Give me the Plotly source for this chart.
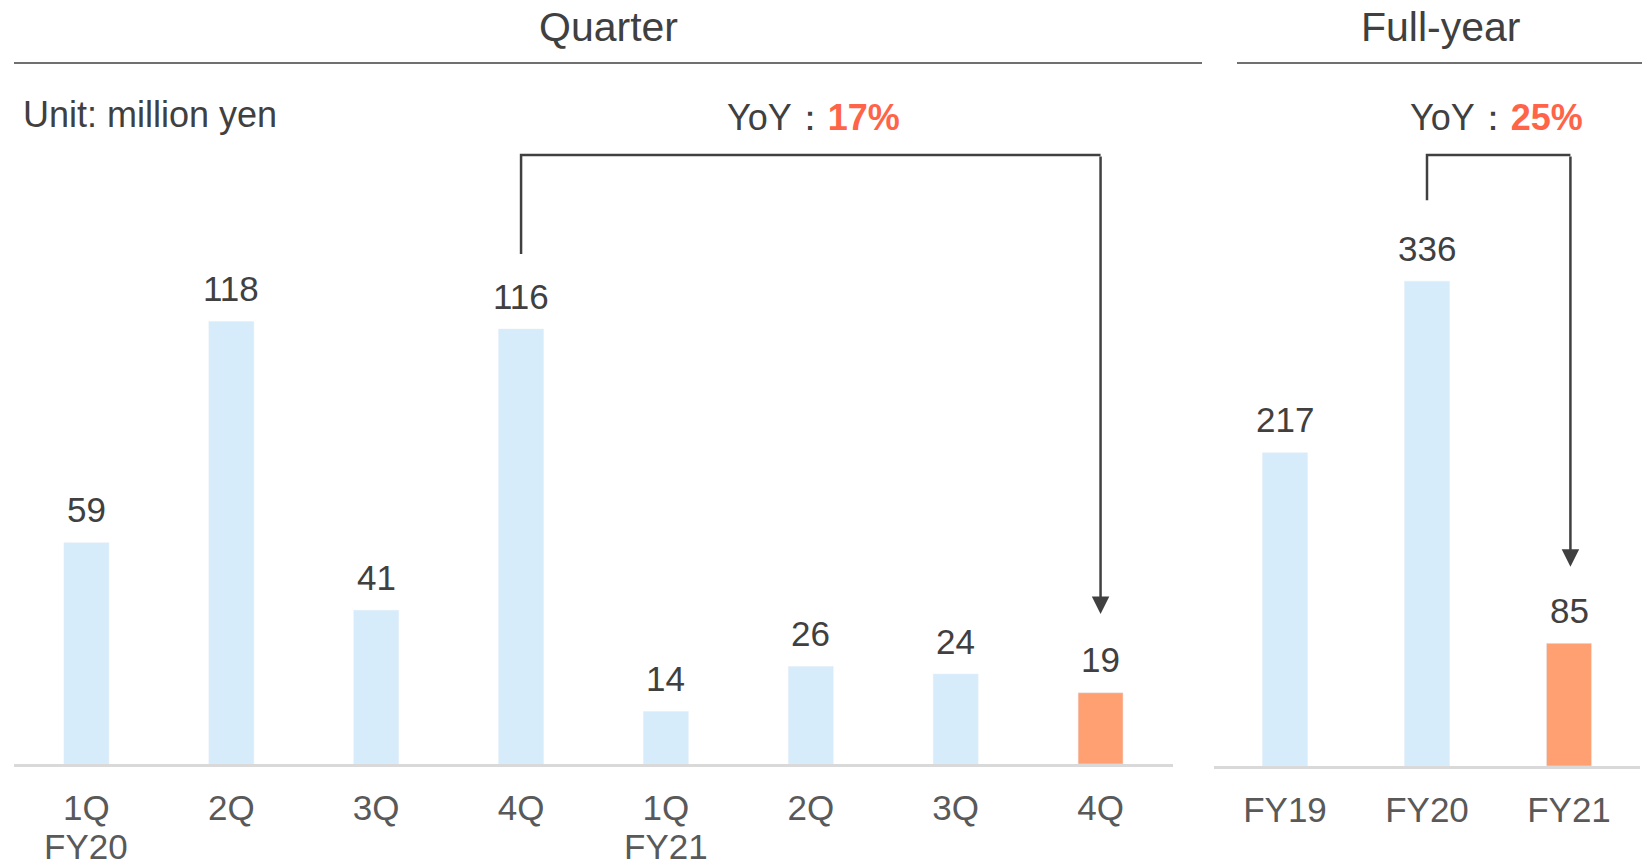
import plotly.graph_objects as go

# ---------------- data ----------------
q_ticks = ["1Q", "2Q", "3Q", "4Q", "1Q", "2Q", "3Q", "4Q"]
q_years = ["FY20", "", "", "", "FY21", "", "", ""]
q_vals = [59, 118, 41, 116, 14, 26, 24, 19]
q_colors = ["#D6ECFB"] * 7 + ["#FFA073"]

fy_ticks = ["FY19", "FY20", "FY21"]
fy_vals = [217, 336, 85]
fy_colors = ["#D6ECFB", "#D6ECFB", "#FFA073"]

yoy_quarter = "17%"
yoy_full = "25%"

# ---------------- geometry helpers ----------------
W, H = 1650, 867
def px(x):
    return x / W
def py(y):
    return 1 - y / H

DARK = "#404040"
TICK = "#595959"
RED = "#FF6448"
FONT = "Arial, Liberation Sans, sans-serif"

q_scale = 3.75      # px per unit
fy_scale = 1.443
q_top_px, q_base_px = 120, 764
fy_top_px, fy_base_px = 120, 766

fig = go.Figure()
fig.add_trace(go.Bar(x=list(range(len(q_vals))), y=q_vals, marker_color=q_colors,
                     width=0.31, xaxis="x", yaxis="y", hoverinfo="skip"))
fig.add_trace(go.Bar(x=list(range(len(fy_vals))), y=fy_vals, marker_color=fy_colors,
                     width=0.317, xaxis="x2", yaxis="y2", hoverinfo="skip"))

axis_common = dict(showline=True, linecolor="#D9D9D9", linewidth=2.5, ticks="",
                   showgrid=False, zeroline=False, fixedrange=True,
                   tickfont=dict(family=FONT, size=35, color=TICK),
                   ticklabelstandoff=11)

fig.update_layout(
    width=W, height=H, margin=dict(l=0, r=0, t=0, b=0),
    paper_bgcolor="white", plot_bgcolor="white", showlegend=False,
    font=dict(family=FONT, color=DARK),
    xaxis=dict(domain=[px(14), px(1173)], range=[-0.5, len(q_vals) - 0.5],
               tickvals=list(range(len(q_vals))), ticktext=q_ticks, anchor="y", **axis_common),
    yaxis=dict(domain=[py(q_base_px), py(q_top_px)],
               range=[0, (q_base_px - q_top_px) / q_scale], visible=False, fixedrange=True),
    xaxis2=dict(domain=[px(1214), px(1640)], range=[-0.5, len(fy_vals) - 0.5],
                tickvals=list(range(len(fy_vals))), ticktext=fy_ticks, anchor="y2", **axis_common),
    yaxis2=dict(domain=[py(fy_base_px), py(fy_top_px)],
                range=[0, (fy_base_px - fy_top_px) / fy_scale], visible=False, fixedrange=True,
                anchor="x2"),
)

ann = []
# value labels
for i, v in enumerate(q_vals):
    ann.append(dict(x=i, y=v, xref="x", yref="y", text=str(v), showarrow=False,
                    yanchor="middle", yshift=33, font=dict(size=35, color=DARK)))
for i, v in enumerate(fy_vals):
    ann.append(dict(x=i, y=v, xref="x2", yref="y2", text=str(v), showarrow=False,
                    yanchor="middle", yshift=33, font=dict(size=35, color=DARK)))
# year labels under ticks
for i, yr in enumerate(q_years):
    if yr:
        ann.append(dict(x=i, y=py(846), xref="x", yref="paper", text=yr, showarrow=False,
                        yanchor="middle", font=dict(size=35, color=TICK)))
# headers
ann.append(dict(x=px(608), y=py(27), xref="paper", yref="paper", text="Quarter",
                showarrow=False, xanchor="center", yanchor="middle", font=dict(size=41, color=DARK)))
ann.append(dict(x=px(1440), y=py(27), xref="paper", yref="paper", text="Full-year",
                showarrow=False, xanchor="center", yanchor="middle", font=dict(size=41, color=DARK)))
ann.append(dict(x=px(21), y=py(115), xref="paper", yref="paper", text="Unit: million yen",
                showarrow=False, xanchor="left", yanchor="middle", font=dict(size=36, color=DARK)))
# YoY labels
ann.append(dict(x=px(813), y=py(117), xref="paper", yref="paper",
                text=f"YoY：<b><span style='color:{RED}'>{yoy_quarter}</span></b>",
                showarrow=False, xanchor="center", yanchor="middle", font=dict(size=36, color=DARK)))
ann.append(dict(x=px(1496), y=py(117), xref="paper", yref="paper",
                text=f"YoY：<b><span style='color:{RED}'>{yoy_full}</span></b>",
                showarrow=False, xanchor="center", yanchor="middle", font=dict(size=36, color=DARK)))

# brackets (relative to the compared bars)
q_from, q_to = 3, 7
q_top = (q_base_px - 155) / q_scale
q_start = q_vals[q_from] + 20
q_tip = q_vals[q_to] + 21
f_from, f_to = 1, 2
f_top = (fy_base_px - 155) / fy_scale
f_start = fy_vals[f_from] + 56
f_tip = fy_vals[f_to] + 53

shapes = [
    dict(type="line", xref="paper", yref="paper", x0=px(14), x1=px(1202), y0=py(63), y1=py(63),
         line=dict(color=DARK, width=1.5)),
    dict(type="line", xref="paper", yref="paper", x0=px(1237), x1=px(1642), y0=py(63), y1=py(63),
         line=dict(color=DARK, width=1.5)),
    dict(type="path", xref="x", yref="y",
         path=f"M {q_from},{q_start} L {q_from},{q_top} L {q_to},{q_top}",
         line=dict(color=DARK, width=2.5)),
    dict(type="path", xref="x2", yref="y2",
         path=f"M {f_from},{f_start} L {f_from},{f_top} L {f_to + 0.01},{f_top}",
         line=dict(color=DARK, width=2.5)),
]
ann.append(dict(x=q_to, y=q_tip, xref="x", yref="y", ax=q_to, ay=q_top, axref="x", ayref="y",
                text="", showarrow=True, arrowhead=2, arrowsize=1.4, arrowwidth=2.5,
                arrowcolor=DARK, standoff=0, startstandoff=0))
ann.append(dict(x=f_to + 0.01, y=f_tip, xref="x2", yref="y2", ax=f_to + 0.01, ay=f_top,
                axref="x2", ayref="y2",
                text="", showarrow=True, arrowhead=2, arrowsize=1.4, arrowwidth=2.5,
                arrowcolor=DARK, standoff=0, startstandoff=0))

fig.update_layout(annotations=ann, shapes=shapes)

fig.write_html("out.html", config={"displayModeBar": False},
               post_script="document.body.style.margin='0';")
